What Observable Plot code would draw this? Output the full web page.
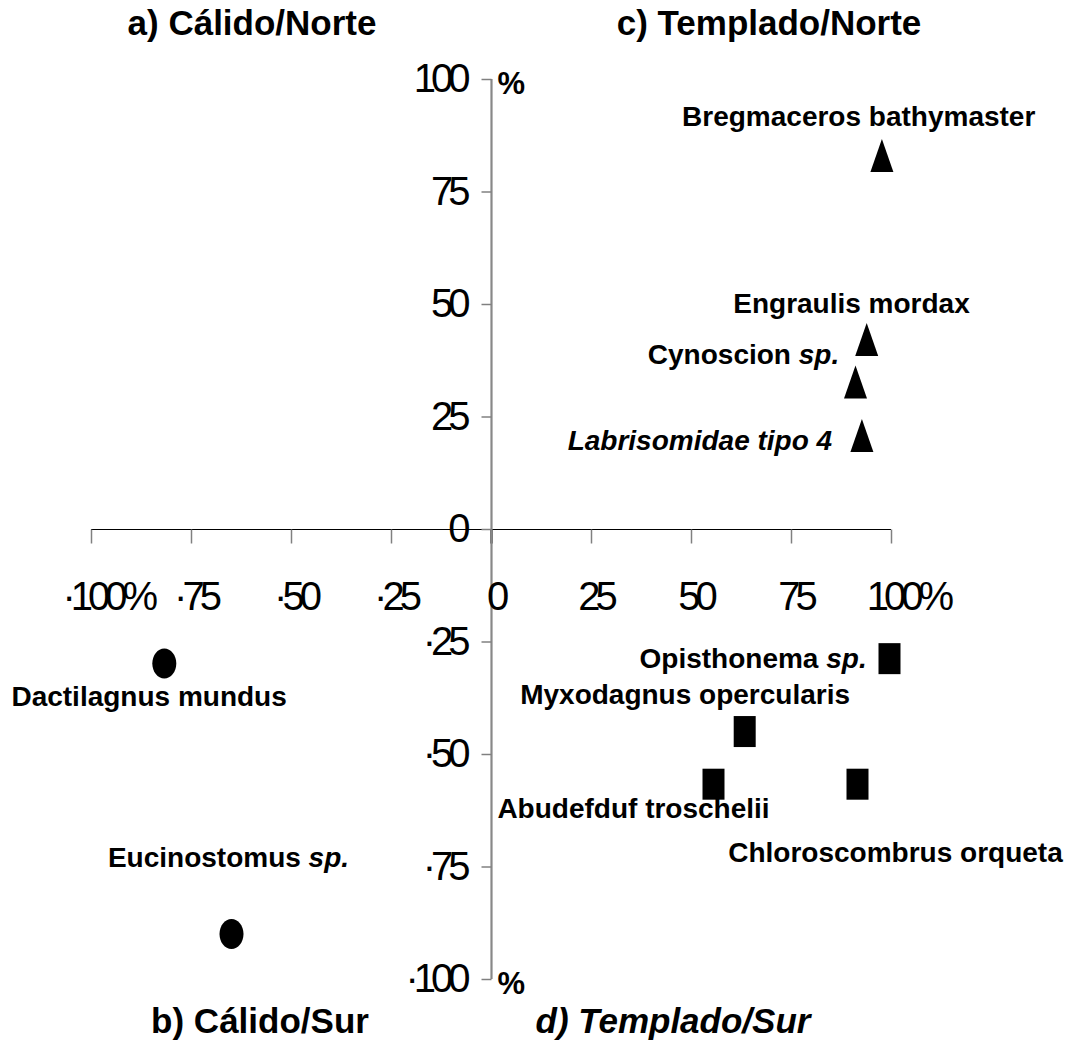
<!DOCTYPE html>
<html>
<head>
<meta charset="utf-8">
<script src="https://cdn.jsdelivr.net/npm/d3@7"></script>
<script src="https://cdn.jsdelivr.net/npm/@observablehq/plot@0.6"></script>
<style>
  body { margin: 0; background: #fff; font-family: "Liberation Sans", Arial, sans-serif; }
  #wrap { position: relative; width: 1070px; height: 1040px; overflow: hidden; }
  #chart { position: absolute; left: 0; top: 0; }
  .qtitle { position: absolute; font-weight: bold; font-size: 35px; color: #000;
            transform: translate(-50%, -50%); white-space: nowrap; line-height: 1; }
  .qtitle.italic { font-style: italic; }
</style>
</head>
<body>
<div id="wrap">
  <div id="chart"></div>
</div>
<script>
// ---------- data ----------
const quadrantTitles = ["a) Cálido/Norte", "c) Templado/Norte", "b) Cálido/Sur", "d) Templado/Sur"];

const xTicks = [-100, -75, -50, -25, 0, 25, 50, 75, 100];
const xTickLabels = ["·100%", "·75", "·50", "·25", "0", "25", "50", "75", "100%"];
const yTicks = [100, 75, 50, 25, 0, -25, -50, -75, -100];
const yTickLabels = ["100", "75", "50", "25", "0", "·25", "·50", "·75", "·100"];
const yUnitTicks = [100, -100];
const yUnitLabels = ["%", "%"];

const speciesNames = [
  "Bregmaceros bathymaster", "Engraulis mordax", "Cynoscion sp.", "Labrisomidae tipo 4",
  "Opisthonema sp.", "Myxodagnus opercularis", "Abudefduf troschelii", "Chloroscombrus orqueta",
  "Dactilagnus mundus", "Eucinostomus sp."
];
const quadrant = ["c", "c", "c", "c", "d", "d", "d", "d", "b", "b"];
const xPct = [97.6, 93.8, 91.0, 92.6, 99.5, 63.3, 55.5, 91.5, -81.8, -65.0];
const yPct = [83.1, 42.2, 32.8, 20.9, -28.7, -44.9, -56.6, -56.6, -29.8, -89.9];
// label anchor points (in % units)
const labelX = [91.8, 90.0, 63.0, 52.1, 65.4, 48.4, 35.5, 101.0, -85.6, -65.75];
const labelY = [91.6, 50.2, 38.7, 19.6, -28.7, -36.7, -62.2, -71.8, -37.3, -73.1];

// ---------- build ----------
const points = speciesNames.map((name, i) => ({name, q: quadrant[i], x: xPct[i], y: yPct[i], lx: labelX[i], ly: labelY[i]}));
const italicNames = ["Labrisomidae tipo 4"];

const triangleSym = {draw(ctx) { ctx.moveTo(0, -16.5); ctx.lineTo(11.5, 16.5); ctx.lineTo(-11.5, 16.5); ctx.closePath(); }};
const squareSym = {draw(ctx) { ctx.moveTo(-11, -15.5); ctx.lineTo(11, -15.5); ctx.lineTo(11, 15.5); ctx.lineTo(-11, 15.5); ctx.closePath(); }};
const ellipseSym = {draw(ctx) {
  const rx = 12, ry = 15, k = 0.5523;
  ctx.moveTo(rx, 0);
  ctx.bezierCurveTo(rx, ry * k, rx * k, ry, 0, ry);
  ctx.bezierCurveTo(-rx * k, ry, -rx, ry * k, -rx, 0);
  ctx.bezierCurveTo(-rx, -ry * k, -rx * k, -ry, 0, -ry);
  ctx.bezierCurveTo(rx * k, -ry, rx, -ry * k, rx, 0);
  ctx.closePath();
}};
const vTickSym = {draw(ctx) { ctx.moveTo(0, 0); ctx.lineTo(0, 14); }};
const hTickSym = {draw(ctx) { ctx.moveTo(-10, 0); ctx.lineTo(0, 0); }};
const symbolFor = {b: ellipseSym, c: triangleSym, d: squareSym};

const svg = Plot.plot({
  width: 1070,
  height: 1040,
  marginLeft: 91,
  marginRight: 179,
  marginTop: 79,
  marginBottom: 61,
  x: {domain: [-100, 100], axis: null},
  y: {domain: [-100, 100], axis: null},
  style: {fontFamily: "'Liberation Sans', Arial, sans-serif", background: "#fff", color: "#000", overflow: "visible"},
  marks: [
    // x axis line + ticks
    Plot.ruleY([0], {x1: -100, x2: 100, stroke: "#000", strokeWidth: 1.2}),
    Plot.dot(xTicks, {x: d => d, y: 0, symbol: vTickSym, stroke: "#808080", strokeWidth: 1.5, fill: "none"}),
    Plot.dot([0], {x: 0, y: 0, symbol: vTickSym, stroke: "#000", strokeWidth: 2, fill: "none"}),
    // y axis line + ticks
    Plot.ruleX([0], {y1: -100, y2: 100, stroke: "#888", strokeWidth: 2.2}),
    Plot.dot(yTicks, {x: 0, y: d => d, symbol: hTickSym, stroke: "#808080", strokeWidth: 1.5, fill: "none"}),
    // tick labels
    Plot.text(xTicks, {x: d => d, y: 0, text: (d, i) => xTickLabels[i], dy: 68, dx: 4, fontSize: 40, textAnchor: "middle", fill: "#000"}),
    Plot.text(yTicks, {x: 0, y: d => d, text: (d, i) => yTickLabels[i], dx: -26, fontSize: 40, textAnchor: "end", fill: "#000"}),
    Plot.text(yUnitTicks, {x: 0, y: d => d, text: (d, i) => yUnitLabels[i], dx: 6, dy: 5, fontSize: 31, fontWeight: "bold", textAnchor: "start", fill: "#000"}),
    // species
    Plot.dot(points, {x: "x", y: "y", symbol: d => symbolFor[d.q], fill: "#000", stroke: "none"}),
    Plot.text(points, {x: "lx", y: "ly", text: "name", fontSize: 28, fontWeight: "bold", textAnchor: "middle", fill: "#000"})
  ]
});

document.getElementById("chart").appendChild(svg);

const tickLabelSet = new Set([...xTickLabels, ...yTickLabels]);
const xPctLabels = new Set(xTickLabels.filter(t => t.endsWith("%")));

d3.select(svg).selectAll("text").each(function() {
  const t = this.textContent;
  if (tickLabelSet.has(t)) {
    this.style.letterSpacing = "-5px";
    if (xPctLabels.has(t)) {
      // keep the number centred on its tick; the % hangs to the right
      const w = this.getSubStringLength(t.length - 1, 1);
      const cur = parseFloat(this.getAttribute("dx")) || 0;
      this.setAttribute("dx", cur + w / 2 - 3);
    }
  } else if (speciesNames.includes(t)) {
    if (italicNames.includes(t)) {
      this.style.fontStyle = "italic";
    } else if (t.endsWith(" sp.")) {
      const base = t.slice(0, -4);
      this.textContent = "";
      const a = document.createElementNS("http://www.w3.org/2000/svg", "tspan");
      a.textContent = base + "\u00A0";
      const b = document.createElementNS("http://www.w3.org/2000/svg", "tspan");
      b.textContent = "sp.";
      b.setAttribute("font-style", "italic");
      this.appendChild(a);
      this.appendChild(b);
    }
  }
});

// quadrant titles (HTML, above/below the plot area)
const wrap = document.getElementById("wrap");
const titlePos = [[252, 22, false], [769, 22, false], [260, 1020, false], [673, 1020, true]];
quadrantTitles.forEach((t, i) => {
  const div = document.createElement("div");
  div.className = "qtitle" + (titlePos[i][2] ? " italic" : "");
  div.textContent = t;
  div.style.left = titlePos[i][0] + "px";
  div.style.top = titlePos[i][1] + "px";
  wrap.appendChild(div);
});
</script>
</body>
</html>
